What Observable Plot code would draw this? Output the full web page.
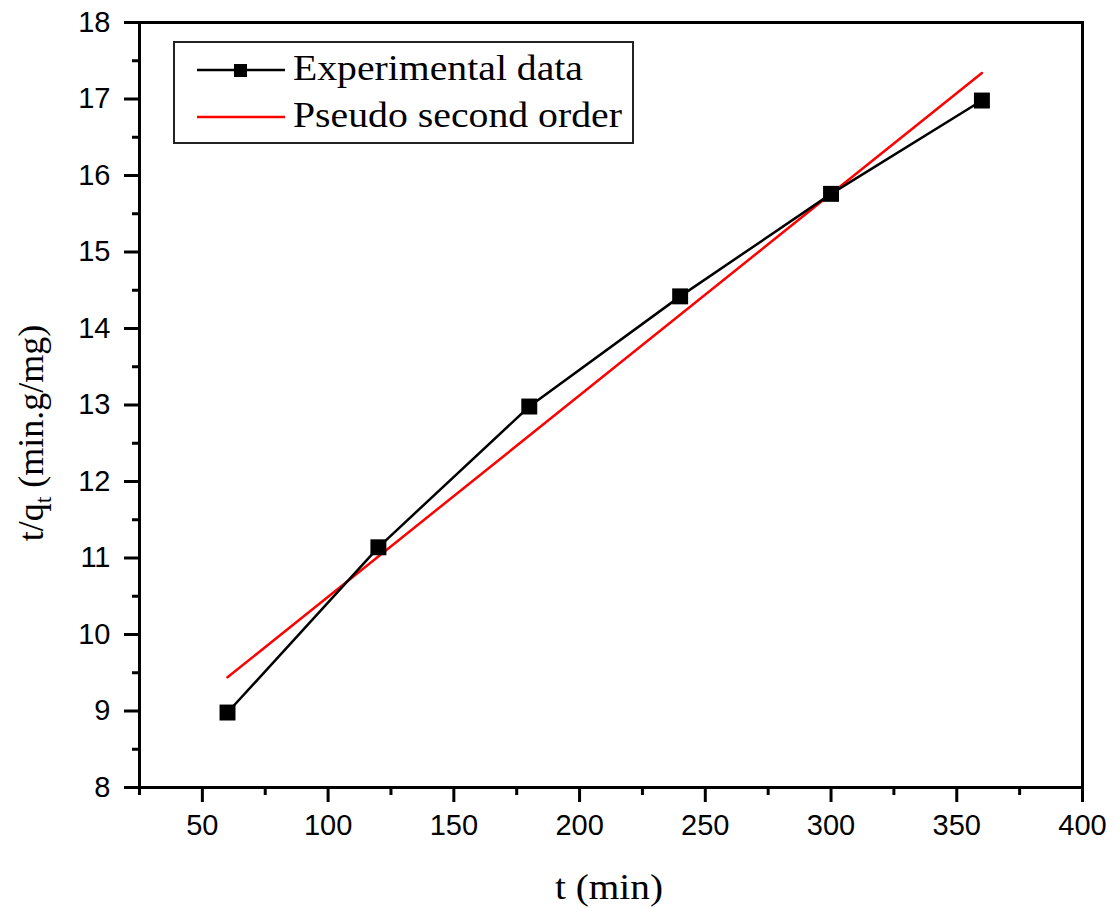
<!DOCTYPE html>
<html>
<head>
<meta charset="utf-8">
<script src="https://cdn.jsdelivr.net/npm/d3@7"></script>
<script src="https://cdn.jsdelivr.net/npm/@observablehq/plot@0.6"></script>
<style>
  html, body { margin: 0; padding: 0; background: #fff; }
</style>
</head>
<body>
<div id="chart"></div>
<script>
// Experimental data
const timeMin = [60, 120, 180, 240, 300, 360];
const tOverQ = [8.98, 11.14, 12.98, 14.42, 15.76, 16.98];
// Pseudo second order fit line (endpoints)
const fitTime = [60, 360];
const fitTOverQ = [9.44, 17.34];
// Ticks
const xTicks = [50, 100, 150, 200, 250, 300, 350, 400];
const xMinor = [25, 75, 125, 175, 225, 275, 325, 375];
const yTicks = [8, 9, 10, 11, 12, 13, 14, 15, 16, 17, 18];
const yMinor = [8.5, 9.5, 10.5, 11.5, 12.5, 13.5, 14.5, 15.5, 16.5, 17.5];
const legendLabels = ["Experimental data", "Pseudo second order"];

const expData = timeMin.map((t, i) => ({t, v: tOverQ[i]}));
const fitData = fitTime.map((t, i) => ({t, v: fitTOverQ[i]}));

const chart = Plot.plot({
  width: 1120,
  height: 909,
  marginLeft: 139,
  marginRight: 38,
  marginTop: 22,
  marginBottom: 122,
  x: {domain: [25, 400]},
  y: {domain: [8, 18]},
  style: {fontFamily: "'Liberation Sans', Arial, sans-serif", fontSize: "29px", color: "black", background: "white"},
  marks: [
    Plot.axisX(xMinor, {tickSize: 8, strokeWidth: 3, tickFormat: () => "", label: null}),
    Plot.axisX(xTicks, {tickSize: 15, tickPadding: 12, strokeWidth: 3, tickFormat: d3.format("d"), label: null}),
    Plot.axisY(yMinor, {tickSize: 7, strokeWidth: 3, tickFormat: () => "", label: null}),
    Plot.axisY(yTicks, {tickSize: 15, tickPadding: 14, strokeWidth: 3, tickFormat: d3.format("d"), label: null}),
    Plot.frame({stroke: "black", strokeWidth: 3}),
    Plot.line(fitData, {x: "t", y: "v", stroke: "#ff0000", strokeWidth: 2.5}),
    Plot.line(expData, {x: "t", y: "v", stroke: "black", strokeWidth: 2.5}),
    Plot.dot(expData, {x: "t", y: "v", symbol: "square", r: 9, fill: "black", stroke: "none"})
  ]
});

document.getElementById("chart").appendChild(chart);

const svg = d3.select(chart);
const serif = "'Liberation Serif', 'Times New Roman', serif";

// X axis label
svg.append("text")
  .attr("x", 609).attr("y", 899)
  .attr("text-anchor", "middle")
  .attr("font-family", serif).attr("font-size", 36)
  .attr("textLength", 108).attr("lengthAdjust", "spacingAndGlyphs")
  .attr("fill", "black")
  .text("t (min)");

// Y axis label with subscript
const yl = svg.append("text")
  .attr("transform", "translate(43,433) rotate(-90)")
  .attr("text-anchor", "middle")
  .attr("font-family", serif).attr("font-size", 36)
  .attr("fill", "black");
yl.append("tspan").text("t/q");
yl.append("tspan").attr("font-size", 24).attr("dy", 8).text("t");
yl.append("tspan").attr("dy", -8).text(" (min.g/mg)");

// Legend
const lg = svg.append("g");
lg.append("rect").attr("x", 174).attr("y", 42).attr("width", 459).attr("height", 101)
  .attr("fill", "white").attr("stroke", "#222").attr("stroke-width", 2);
lg.append("line").attr("x1", 197).attr("x2", 285).attr("y1", 70).attr("y2", 70)
  .attr("stroke", "black").attr("stroke-width", 2.5);
lg.append("rect").attr("x", 234).attr("y", 64).attr("width", 13).attr("height", 13).attr("fill", "black");
lg.append("line").attr("x1", 197).attr("x2", 285).attr("y1", 117).attr("y2", 117)
  .attr("stroke", "#ff0000").attr("stroke-width", 2.5);
lg.append("text").attr("x", 293).attr("y", 80)
  .attr("text-anchor", "start")
  .attr("font-family", serif).attr("font-size", 35).attr("fill", "black")
  .attr("textLength", 290).attr("lengthAdjust", "spacingAndGlyphs")
  .text(legendLabels[0]);
lg.append("text").attr("x", 293).attr("y", 127)
  .attr("text-anchor", "start")
  .attr("font-family", serif).attr("font-size", 35).attr("fill", "black")
  .attr("textLength", 329).attr("lengthAdjust", "spacingAndGlyphs")
  .text(legendLabels[1]);
</script>
</body>
</html>
